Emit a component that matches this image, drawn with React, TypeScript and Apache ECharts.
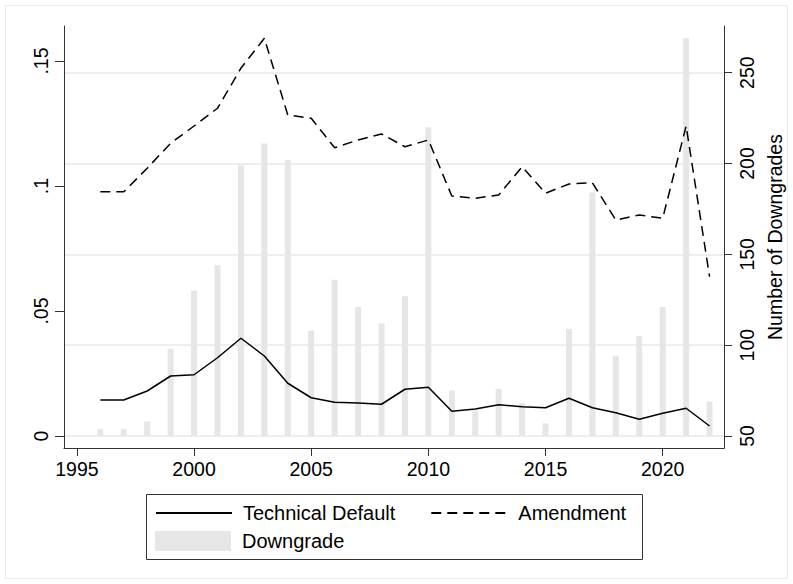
import { useEffect, useRef } from "react";
import * as echarts from "echarts";

const years = [
  1996, 1997, 1998, 1999, 2000, 2001, 2002, 2003, 2004, 2005, 2006, 2007, 2008, 2009,
  2010, 2011, 2012, 2013, 2014, 2015, 2016, 2017, 2018, 2019, 2020, 2021, 2022,
];

// Share of deals (left axis)
const technicalDefault = [
  0.0144, 0.0144, 0.018, 0.024, 0.0245, 0.0313, 0.0391, 0.032, 0.0211, 0.0153, 0.0135, 0.0132,
  0.0127, 0.0187, 0.0195, 0.0099, 0.0108, 0.0125, 0.0117, 0.0113, 0.0151, 0.0113, 0.0093,
  0.0067, 0.0091, 0.0111, 0.004,
];
const amendment = [
  0.0977, 0.0977, 0.1071, 0.1171, 0.124, 0.1311, 0.1471, 0.1591, 0.1284, 0.1271, 0.1153, 0.1184,
  0.1208, 0.1157, 0.1184, 0.096, 0.0951, 0.0964, 0.1077, 0.0971, 0.1008, 0.1013, 0.0864,
  0.0884, 0.0871, 0.124, 0.0637,
];

// Number of downgrades (right axis)
const downgrades = [
  54, 54, 58, 98, 130, 144, 199, 211, 202, 108, 136, 121, 112, 127, 220, 75, 64, 76, 68, 57,
  109, 184, 94, 105, 121, 269, 69,
];

const xTicks = [1995, 2000, 2005, 2010, 2015, 2020];
const leftTicks = [0, 0.05, 0.1, 0.15];
const rightTicks = [50, 100, 150, 200, 250];

const FONT = "'Liberation Sans', Arial, Helvetica, sans-serif";
const AXIS_COLOR = "#333";

export default function App() {
  const ref = useRef<HTMLDivElement>(null);

  useEffect(() => {
    if (!ref.current) return;
    const chart = echarts.init(ref.current, undefined, { renderer: "svg" });

    const labelStyle = { fontFamily: FONT, fontSize: 19.5, color: "#000" };
    const legendText = { fontFamily: FONT, fontSize: 20, color: "#000", padding: [0, 0, 0, 6] };

    chart.setOption({
      animation: false,
      backgroundColor: "#fff",
      textStyle: { fontFamily: FONT },
      grid: { left: 64, right: 68, top: 26, bottom: 136, containLabel: false },
      xAxis: {
        type: "value",
        min: 1994.45,
        max: 2022.62,
        axisLine: { show: true, onZero: false, lineStyle: { color: AXIS_COLOR, width: 1 } },
        axisTick: { show: true, customValues: xTicks, length: 8, lineStyle: { color: AXIS_COLOR } },
        axisLabel: { ...labelStyle, customValues: xTicks, margin: 11, formatter: (v: number) => String(v) },
        splitLine: { show: false },
      },
      yAxis: [
        {
          type: "value",
          position: "left",
          min: -0.0048,
          max: 0.164,
          axisLine: { show: true, onZero: false, lineStyle: { color: AXIS_COLOR, width: 1 } },
          axisTick: { show: true, customValues: leftTicks, length: 9, lineStyle: { color: AXIS_COLOR } },
          axisLabel: {
            ...labelStyle,
            customValues: leftTicks,
            rotate: 90,
            margin: 13,
            formatter: (v: number) => (v === 0 ? "0" : String(v).replace(/^0/, "")),
          },
          splitLine: { show: false },
        },
        {
          type: "value",
          position: "right",
          min: 43.4,
          max: 275.7,
          startValue: 50,
          name: "Number of Downgrades",
          nameLocation: "middle",
          nameRotate: 90,
          nameGap: 39,
          nameTextStyle: { fontFamily: FONT, fontSize: 19.5, color: "#000" },
          axisLine: { show: true, onZero: false, lineStyle: { color: AXIS_COLOR, width: 1 } },
          axisTick: { show: true, customValues: rightTicks, length: 8, lineStyle: { color: AXIS_COLOR } },
          axisLabel: { ...labelStyle, customValues: rightTicks, rotate: 90, margin: 13 },
          splitLine: { show: true, lineStyle: { color: "#e8e8e8", width: 1.5 } },
        },
      ],
      legend: [
        {
          data: ["Technical Default", "Amendment"],
          left: 155,
          top: 503,
          orient: "horizontal",
          padding: 0,
          itemWidth: 76,
          itemHeight: 20,
          itemGap: 35,
          selectedMode: false,
          // line-only keys: hide the marker drawn in the middle of the line
          itemStyle: { color: "rgba(0,0,0,0)", borderWidth: 0, opacity: 0 },
          textStyle: legendText,
        },
        {
          data: [{ name: "Downgrade", icon: "rect" }],
          left: 155,
          top: 531,
          orient: "horizontal",
          padding: 0,
          itemWidth: 76,
          itemHeight: 20,
          selectedMode: false,
          textStyle: legendText,
        },
      ],
      graphic: [
        {
          type: "rect",
          silent: true,
          shape: { x: 5.5, y: 5.5, width: 782, height: 573 },
          style: { fill: "none", stroke: "#ececec", lineWidth: 1 },
        },
        {
          type: "rect",
          silent: true,
          shape: { x: 146.5, y: 494.5, width: 496, height: 65 },
          style: { fill: "none", stroke: "#333", lineWidth: 1 },
        },
      ],
      series: [
        {
          name: "Downgrade",
          type: "bar",
          xAxisIndex: 0,
          yAxisIndex: 1,
          barWidth: 6,
          itemStyle: { color: "#e6e6e6" },
          data: years.map((y, i) => [y, downgrades[i]]),
          z: 1,
        },
        {
          name: "Technical Default",
          type: "line",
          yAxisIndex: 0,
          symbol: "none",
          lineStyle: { color: "#000", width: 1.5 },
          itemStyle: { color: "#000" },
          data: years.map((y, i) => [y, technicalDefault[i]]),
          z: 3,
        },
        {
          name: "Amendment",
          type: "line",
          yAxisIndex: 0,
          symbol: "none",
          lineStyle: { color: "#000", width: 1.5, type: [10, 6] },
          itemStyle: { color: "#000" },
          data: years.map((y, i) => [y, amendment[i]]),
          z: 3,
        },
      ],
    });

    return () => chart.dispose();
  }, []);

  return (
    <div
      ref={ref}
      style={{ position: "fixed", left: 0, top: 0, width: 793, height: 584, background: "#fff" }}
    />
  );
}
